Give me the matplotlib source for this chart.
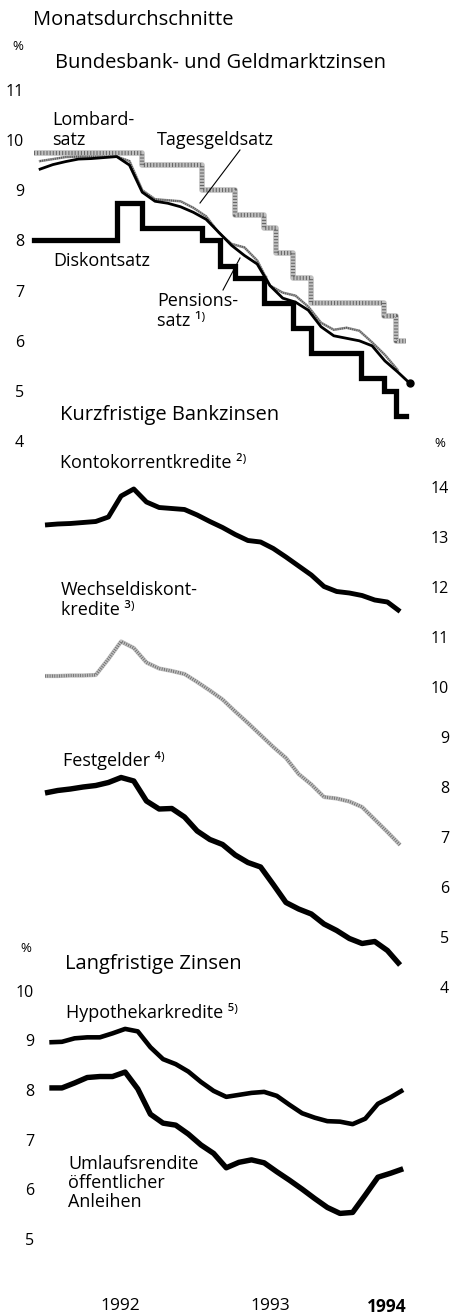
import numpy as np
import pandas as pd
import matplotlib.pyplot as plt
from matplotlib.lines import Line2D

plt.rcParams["font.family"] = ["Open Sans", "DejaVu Sans"]

W, H = 451, 1314

# monthly averages Jan 1992 .. May 1994
months = pd.date_range("1992-01-01", "1994-05-01", freq="MS")

# Bundesbank- und Geldmarktzinsen
lombard_dates = ["1992-01-01", "1992-09-15", "1993-02-05", "1993-04-23", "1993-07-02",
                 "1993-07-30", "1993-09-10", "1993-10-22", "1994-04-15", "1994-05-13"]
lombard_rate = [9.75, 9.5, 9.0, 8.5, 8.25, 7.75, 7.25, 6.75, 6.5, 6.0]
diskont_dates = ["1992-01-01", "1992-07-17", "1992-09-15", "1993-02-05", "1993-03-19",
                 "1993-04-23", "1993-07-02", "1993-09-10", "1993-10-22", "1994-02-18",
                 "1994-04-15", "1994-05-13"]
diskont_rate = [8.0, 8.75, 8.25, 8.0, 7.5, 7.25, 6.75, 6.25, 5.75, 5.25, 5.0, 4.5]
rates_end = "1994-06-05"

tagesgeld = [9.58, 9.62, 9.66, 9.67, 9.67, 9.67, 9.67, 9.58, 9.00, 8.82, 8.80, 8.78,
             8.65, 8.48, 8.15, 7.93, 7.86, 7.60, 7.10, 6.96, 6.90, 6.68, 6.36, 6.22,
             6.26, 6.20, 5.97, 5.72, 5.42]
pension = [9.42, 9.51, 9.57, 9.62, 9.63, 9.65, 9.67, 9.50, 8.96, 8.78, 8.74, 8.67,
           8.56, 8.42, 8.16, 7.90, 7.70, 7.53, 7.10, 6.85, 6.77, 6.61, 6.28, 6.10,
           6.05, 6.00, 5.90, 5.60, 5.38]
pension_last_date = "1994-06-15"
pension_last = 5.15

# Kurzfristige Bankzinsen
konto = [13.24, 13.26, 13.27, 13.29, 13.31, 13.40, 13.82, 13.96, 13.70, 13.59, 13.57, 13.55,
         13.44, 13.31, 13.19, 13.05, 12.93, 12.90, 12.77, 12.60, 12.42, 12.24, 12.01, 11.91,
         11.88, 11.83, 11.74, 11.70, 11.51]
wechsel = [10.22, 10.22, 10.23, 10.23, 10.24, 10.56, 10.91, 10.78, 10.49, 10.37, 10.32, 10.26,
           10.10, 9.93, 9.75, 9.51, 9.28, 9.04, 8.80, 8.58, 8.26, 8.05, 7.80, 7.77,
           7.71, 7.60, 7.35, 7.10, 6.84]
festgeld = [7.88, 7.93, 7.96, 8.00, 8.03, 8.09, 8.19, 8.12, 7.72, 7.56, 7.57, 7.40,
            7.12, 6.95, 6.85, 6.64, 6.49, 6.40, 6.05, 5.69, 5.56, 5.46, 5.26, 5.13,
            4.97, 4.87, 4.91, 4.73, 4.44]

# Langfristige Zinsen
hypothek = [8.96, 8.97, 9.04, 9.06, 9.06, 9.14, 9.23, 9.18, 8.86, 8.62, 8.52, 8.37,
            8.16, 7.98, 7.86, 7.90, 7.94, 7.96, 7.88, 7.70, 7.53, 7.44, 7.37, 7.36,
            7.31, 7.42, 7.72, 7.85, 8.00]
umlauf = [8.04, 8.04, 8.14, 8.25, 8.27, 8.27, 8.36, 8.02, 7.51, 7.33, 7.29, 7.11,
          6.89, 6.72, 6.43, 6.54, 6.59, 6.53, 6.35, 6.18, 6.00, 5.81, 5.63, 5.51,
          5.53, 5.88, 6.24, 6.32, 6.41]

years = ["1992", "1993", "1994"]


def mpos(d):
    d = pd.Timestamp(d)
    return (d.year - 1992) * 12 + d.month - 1 + (d.day - 1) / d.days_in_month


t_month = np.array([mpos(m) for m in months]) + 0.5

fig = plt.figure(figsize=(W / 100, H / 100), dpi=100)


def px_axes(x0, y0, x1, y1, xlim, ylim):
    ax = fig.add_axes([x0 / W, 1 - y1 / H, (x1 - x0) / W, (y1 - y0) / H])
    ax.set_facecolor("none")
    for s in ax.spines.values():
        s.set_visible(False)
    ax.tick_params(length=0, labelsize=11.5)
    ax.set_xticks([])
    ax.set_xlim(*xlim)
    ax.set_ylim(*ylim)
    return ax


def label(x, y, s, size=13, **kw):
    fig.text(x / W, 1 - y / H, s, fontsize=size, ha=kw.pop("ha", "left"),
             va=kw.pop("va", "center"), linespacing=1.1, **kw)


def leader(x0, y0, x1, y1):
    fig.add_artist(Line2D([x0 / W, x1 / W], [1 - y0 / H, 1 - y1 / H], color="k", lw=0.8))


def hatched(ax, x, y, lw, **kw):
    ax.plot(x, y, color="0.75", lw=lw, solid_capstyle="butt", **kw)
    ax.plot(x, y, color="0.4", lw=lw * 0.75, ls=(0, (0.25, 0.5)), dash_capstyle="butt", **kw)


# ---- panel 1 --------------------------------------------------------------
ax1 = px_axes(30, 75, 420, 450, (-0.29, 30.25), (3.825, 11.295))
ax1.set_yticks(range(4, 12))
ax1.tick_params(axis="y", pad=4.3)

lx = [mpos(d) for d in lombard_dates] + [mpos(rates_end)]
hatched(ax1, lx, lombard_rate + lombard_rate[-1:], 4.0, drawstyle="steps-post")
dx = [mpos(d) for d in diskont_dates] + [mpos(rates_end)]
ax1.plot(dx, diskont_rate + diskont_rate[-1:], color="k", lw=3.8,
         drawstyle="steps-post", solid_joinstyle="miter")
ax1.plot(t_month, tagesgeld, color="0.6", lw=1.8)
ax1.plot(t_month, tagesgeld, color="0.3", lw=1.4, ls=(0, (0.4, 0.7)))
px = np.append(t_month, mpos(pension_last_date))
ax1.plot(px, pension + [pension_last], color="k", lw=2.0)
ax1.plot(px[-1], pension_last, "o", color="k", ms=5)

label(33, 20, "Monatsdurchschnitte", 14.5)
label(12, 46, "%", 9.5)
label(55, 63, "Bundesbank- und Geldmarktzinsen", 14.5)
label(52, 130, "Lombard-\nsatz")
label(157, 140, "Tagesgeldsatz")
label(53, 261, "Diskontsatz")
label(157, 311, "Pensions-\nsatz ¹⁾")
leader(240, 150, 200, 203)
leader(223, 290, 240, 258)

# ---- panel 2 --------------------------------------------------------------
ax2 = px_axes(30, 470, 420, 1000, (-0.683, 30.07), (3.74, 14.34))
ax2.yaxis.tick_right()
ax2.set_yticks(range(4, 15), [str(v) for v in range(4, 15)], ha="right")
ax2.tick_params(axis="y", pad=20.9)

ax2.plot(t_month, konto, color="k", lw=3.5, solid_capstyle="butt")
hatched(ax2, t_month, wechsel, 3.0)
ax2.plot(t_month, festgeld, color="k", lw=3.9, solid_capstyle="butt")

label(60, 415, "Kurzfristige Bankzinsen", 14.5)
label(434, 443, "%", 9.5)
label(60, 463, "Kontokorrentkredite ²⁾")
label(61, 600, "Wechseldiskont-\nkredite ³⁾")
label(63, 760, "Festgelder ⁴⁾")

# ---- panel 3 --------------------------------------------------------------
ax3 = px_axes(40, 930, 420, 1290, (-0.237, 29.83), (3.966, 11.224))
ax3.set_yticks(range(5, 11))
ax3.tick_params(axis="y", pad=4.3)
ax3.set_xticks([6.1, 18.0, 27.2], years)
ax3.tick_params(axis="x", pad=5.5, labelsize=12.5)
ax3.get_xticklabels()[-1].set_fontweight("bold")

ax3.plot(t_month, hypothek, color="k", lw=3.3, solid_capstyle="butt")
ax3.plot(t_month, umlauf, color="k", lw=3.9, solid_capstyle="butt")

label(20, 948, "%", 9.5)
label(65, 964, "Langfristige Zinsen", 14.5)
label(66, 1013, "Hypothekarkredite ⁵⁾")
label(68, 1183, "Umlaufsrendite\nöffentlicher\nAnleihen")

plt.savefig("out.png", dpi=100)
